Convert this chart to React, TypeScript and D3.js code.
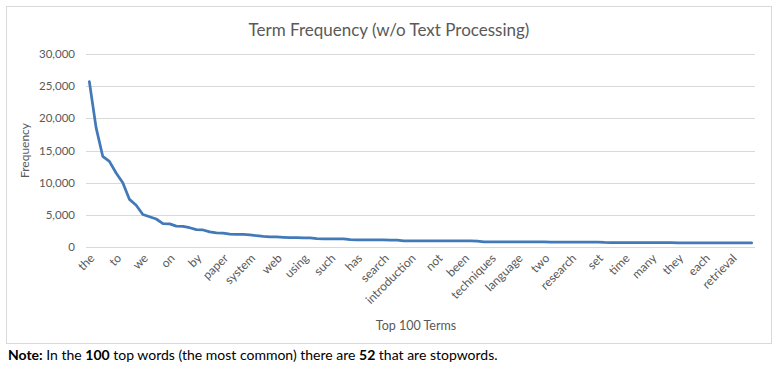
import { useEffect, useRef } from "react";
import * as d3 from "d3";

// every 4th term is labelled on the category axis
const termLabels = [
  "the", "to", "we", "on", "by", "paper", "system", "web", "using", "such",
  "has", "search", "introduction", "not", "been", "techniques", "language",
  "two", "research", "set", "time", "many", "they", "each", "retrieval",
];

// frequency of each of the top 100 terms
const frequencies = [
  25700, 18600, 14100, 13300, 11500, 10000, 7400, 6500, 5050, 4700,
  4350, 3650, 3600, 3250, 3200, 3000, 2700, 2650, 2350, 2200,
  2150, 2000, 1980, 1960, 1900, 1750, 1650, 1580, 1560, 1500,
  1450, 1440, 1430, 1420, 1300, 1280, 1270, 1260, 1250, 1130,
  1120, 1110, 1100, 1095, 1090, 1085, 1060, 970, 965, 960,
  958, 955, 953, 950, 948, 945, 943, 940, 900, 800,
  798, 795, 793, 790, 788, 785, 783, 780, 778, 776,
  774, 772, 770, 768, 766, 764, 740, 700, 695, 690,
  686, 682, 678, 674, 670, 667, 664, 661, 658, 655,
  652, 649, 646, 643, 640, 637, 634, 631, 628, 625,
];

const yTicks = [0, 5000, 10000, 15000, 20000, 25000, 30000];

const FONT = "Lato, 'Liberation Sans', Arial, sans-serif";

export default function App() {
  const svgRef = useRef<SVGSVGElement | null>(null);

  useEffect(() => {
    if (!svgRef.current) return;

    const width = 780;
    const height = 367;
    const plot = { left: 86, right: 755, top: 54, bottom: 247 };

    const svg = d3.select(svgRef.current);
    svg.selectAll("*").remove();

    // chart area border
    svg
      .append("rect")
      .attr("x", 6.5)
      .attr("y", 6.5)
      .attr("width", 765)
      .attr("height", 337)
      .attr("fill", "#fff")
      .attr("stroke", "#D9D9D9");

    const x = d3
      .scaleBand<number>()
      .domain(d3.range(frequencies.length))
      .range([plot.left, plot.right]);

    const y = d3.scaleLinear().domain([0, 30000]).range([plot.bottom, plot.top]);

    const cx = (i: number) => (x(i) || 0) + x.bandwidth() / 2;

    // gridlines
    svg
      .append("g")
      .selectAll("line")
      .data(yTicks)
      .join("line")
      .attr("x1", plot.left)
      .attr("x2", plot.right)
      .attr("y1", (d) => Math.round(y(d)) + 0.5)
      .attr("y2", (d) => Math.round(y(d)) + 0.5)
      .attr("stroke", "#D9D9D9")
      .attr("stroke-width", 1);

    // y tick labels
    svg
      .append("g")
      .selectAll("text")
      .data(yTicks)
      .join("text")
      .attr("x", 75)
      .attr("y", (d) => y(d))
      .attr("dy", "0.35em")
      .attr("text-anchor", "end")
      .attr("font-family", FONT)
      .attr("font-size", 11.5)
      .attr("fill", "#595959")
      .text((d) => d3.format(",")(d));

    // x tick labels
    svg
      .append("g")
      .selectAll("text")
      .data(termLabels)
      .join("text")
      .attr("transform", (_, k) => `translate(${cx(k * 4) + 3},${256}) rotate(-45)`)
      .attr("dy", "0.35em")
      .attr("text-anchor", "end")
      .attr("font-family", FONT)
      .attr("font-size", 12)
      .attr("fill", "#595959")
      .text((d) => d);

    const line = d3
      .line<number>()
      .x((_, i) => cx(i))
      .y((d) => y(d));

    svg
      .append("path")
      .datum(frequencies)
      .attr("fill", "none")
      .attr("stroke", "#4279B8")
      .attr("stroke-width", 2.75)
      .attr("stroke-linejoin", "round")
      .attr("stroke-linecap", "round")
      .attr("d", line);

    // titles
    svg
      .append("text")
      .attr("x", 389)
      .attr("y", 30)
      .attr("dy", "0.35em")
      .attr("text-anchor", "middle")
      .attr("font-family", FONT)
      .attr("font-size", 17)
      .attr("fill", "#595959")
      .text("Term Frequency (w/o Text Processing)");

    svg
      .append("text")
      .attr("transform", `translate(25,${(plot.top + plot.bottom) / 2}) rotate(-90)`)
      .attr("dy", "0.35em")
      .attr("text-anchor", "middle")
      .attr("font-family", FONT)
      .attr("font-size", 12)
      .attr("fill", "#595959")
      .text("Frequency");

    svg
      .append("text")
      .attr("x", 416)
      .attr("y", 326)
      .attr("dy", "0.35em")
      .attr("text-anchor", "middle")
      .attr("font-family", FONT)
      .attr("font-size", 12.5)
      .attr("fill", "#595959")
      .text("Top 100 Terms");

    // note under the chart
    const note = svg
      .append("text")
      .attr("x", 8)
      .attr("y", 355)
      .attr("dy", "0.35em")
      .attr("font-family", FONT)
      .attr("font-size", 14)
      .attr("fill", "#000");
    note.append("tspan").attr("font-weight", "bold").text("Note:");
    note.append("tspan").text(" In the ");
    note.append("tspan").attr("font-weight", "bold").text("100");
    note.append("tspan").text(" top words (the most common) there are ");
    note.append("tspan").attr("font-weight", "bold").text("52");
    note.append("tspan").text(" that are stopwords.");

    svg.attr("width", width).attr("height", height);
  }, []);

  return (
    <svg
      ref={svgRef}
      width={780}
      height={367}
      style={{ position: "absolute", left: 0, top: 0, background: "#fff" }}
    ></svg>
  );
}
